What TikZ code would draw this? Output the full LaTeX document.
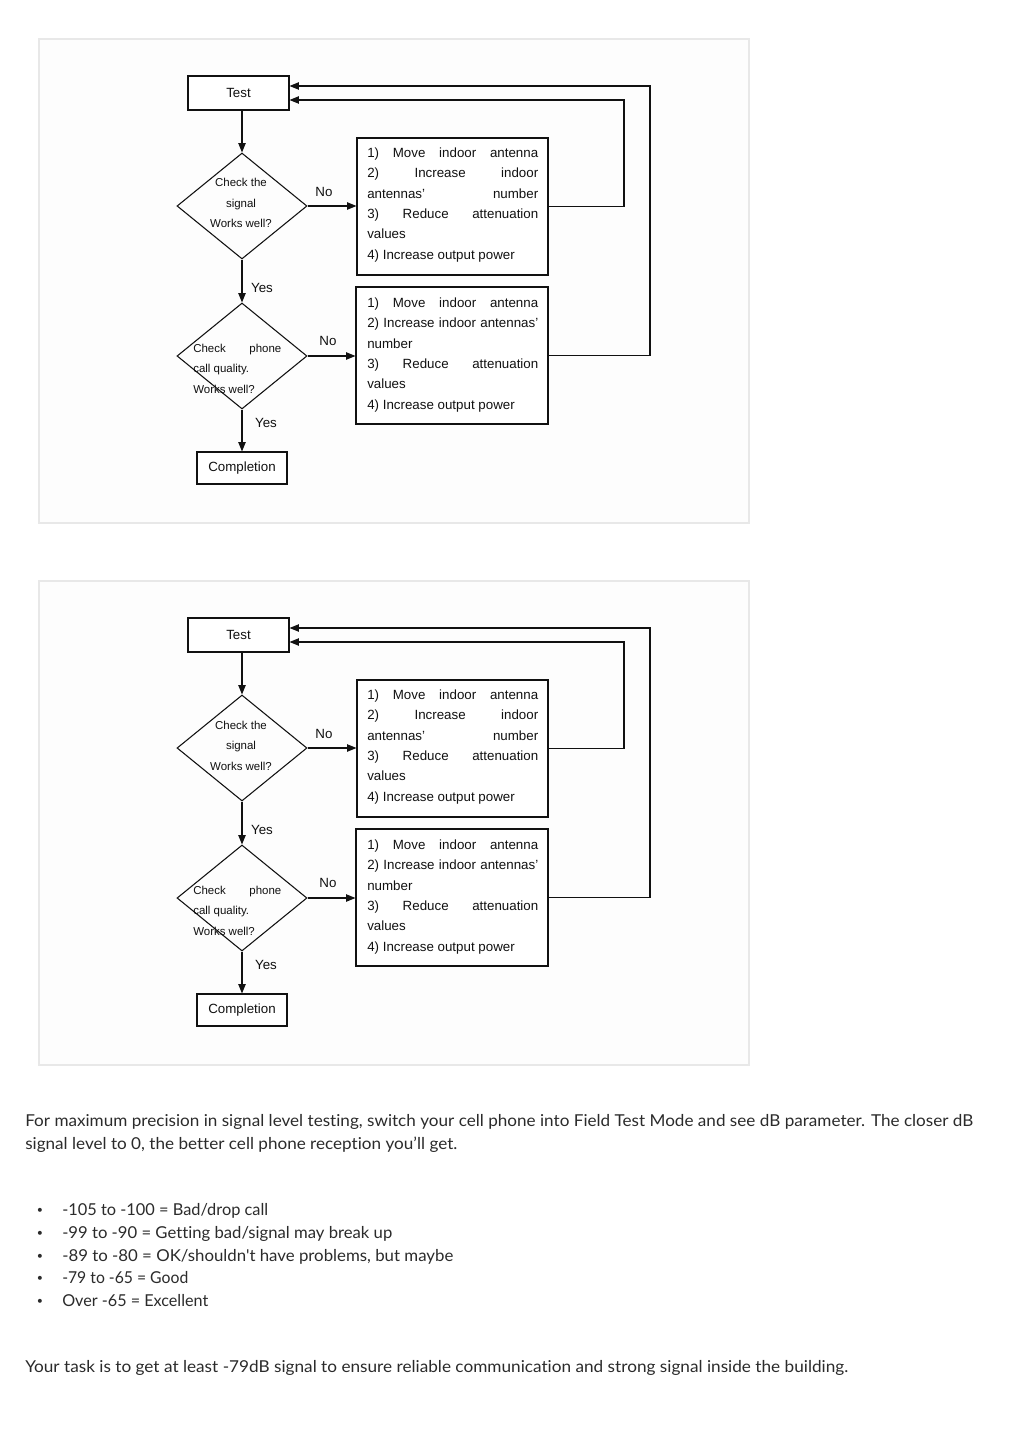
\documentclass[tikz,border=0pt]{standalone}
\usepackage{fontspec}
\usepackage{graphicx}
\setmainfont{Liberation Sans}
\newfontfamily\bodyfont[Ligatures={NoCommon,NoContextual}]{Lato}
\usetikzlibrary{arrows.meta,shapes.geometric}
\definecolor{panelfill}{HTML}{FDFDFD}
\definecolor{panelline}{HTML}{E8E8E8}
\definecolor{bodytext}{HTML}{2B2B2B}
\definecolor{flowline}{HTML}{111111}
\newcommand{\jline}[1]{\hbox to 128.25pt{#1}}
\newcommand{\flowpanel}[2]{%
\begin{scope}[shift={(0,#1)}]
\path[fill=panelfill, draw=panelline, line width=1.1pt] (39,39) rectangle (749,523);
% main nodes
\node[rbox, minimum width=75.75pt, minimum height=25.5pt] (#2test) at (238.5,93) {Test};
\node[dbox] (#2d1) at (242,206) {};
\node[rbox, minimum width=143.25pt, minimum height=102.75pt] (#2b1) at (452.5,206.5) {};
\node[dbox] (#2d2) at (242,356) {};
\node[rbox, minimum width=144pt, minimum height=102.75pt] (#2b2) at (452,355.5) {};
\node[rbox, minimum width=67.5pt, minimum height=24pt] (#2comp) at (242,468) {Completion};
% diamond texts
\node[dtext, anchor=base] (#2d1a) at (241,187) {Check the};
\node[dtext, anchor=base] (#2d1b) at (241,207.5) {signal};
\node[dtext, anchor=base] (#2d1c) at (241,228) {Works well?};
\node[dtext, anchor=base west] (#2d2a) at (193,352) {\hbox to 66pt{Check\hfill phone}};
\node[dtext, anchor=base west] (#2d2b) at (193,372.5) {call quality.};
\node[dtext, anchor=base west] (#2d2c) at (193,393) {Works well?};
% box 1 texts
\node[btext] (#2b1l1) at (367,157.3) {\jline{1)\hfill Move\hfill indoor\hfill antenna}};
\node[btext] (#2b1l2) at (367,177.7) {\jline{2)\hfill Increase\hfill indoor}};
\node[btext] (#2b1l3) at (367,198.1) {\jline{antennas'\hfill number}};
\node[btext] (#2b1l4) at (367,218.5) {\jline{3)\hfill Reduce\hfill attenuation}};
\node[btext] (#2b1l5) at (367,238.9) {values};
\node[btext] (#2b1l6) at (367,259.3) {4) Increase output power};
% box 2 texts
\node[btext] (#2b2l1) at (367,307.3) {\jline{1)\hfill Move\hfill indoor\hfill antenna}};
\node[btext] (#2b2l2) at (367,327.7) {\jline{2)\hfill Increase\hfill indoor\hfill antennas'}};
\node[btext] (#2b2l3) at (367,348.1) {number};
\node[btext] (#2b2l4) at (367,368.5) {\jline{3)\hfill Reduce\hfill attenuation}};
\node[btext] (#2b2l5) at (367,388.9) {values};
\node[btext] (#2b2l6) at (367,409.3) {4) Increase output power};
% labels
\node[lbl] (#2no1) at (324,192) {No};
\node[lbl] (#2yes1) at (262,288) {Yes};
\node[lbl] (#2no2) at (328,341) {No};
\node[lbl] (#2yes2) at (266,423) {Yes};
% connectors
\draw[arr] (#2test.south -| #2d1.north) -- (#2d1.north);
\draw[arr] (#2d1.east) -- (#2d1.east -| #2b1.west);
\draw[arr] (#2d1.south) -- (#2d2.north);
\draw[arr] (#2d2.east) -- (#2d2.east -| #2b2.west);
\draw[arr] (#2d2.south) -- (#2comp.north);
\coordinate (#2r1) at (624,100);
\coordinate (#2r2) at (650,86);
\draw[arr] (#2b1.east) -| (#2r1) -- (#2r1 -| #2test.east);
\draw[arr] (#2b2.east) -| (#2r2) -- (#2r2 -| #2test.east);
\end{scope}}
\begin{document}
\begin{tikzpicture}[x=0.75pt,y=-0.75pt,
  arr/.style={draw=flowline, line width=0.8pt, -{Triangle[length=7pt,width=5.5pt]}},
  rbox/.style={draw=flowline, line width=0.8pt, inner sep=0pt, fill=white, text=flowline, font=\fontsize{10}{12}\selectfont},
  dbox/.style={diamond, draw=flowline, line width=0.8pt, inner sep=0pt, minimum width=97.5pt, minimum height=79.5pt},
  dtext/.style={inner sep=0pt, text=flowline, font=\fontsize{8.6}{10}\selectfont},
  btext/.style={inner sep=0pt, anchor=base west, text=flowline, font=\fontsize{10}{12}\selectfont},
  lbl/.style={inner sep=0pt, text=flowline, font=\fontsize{10}{12}\selectfont},
  body/.style={inner sep=0pt, anchor=base west, text=bodytext, font=\bodyfont\fontsize{12.3}{15}\selectfont},
  bul/.style={inner sep=0pt, anchor=base, text=bodytext, font=\bodyfont\fontsize{8}{10}\selectfont},
]
\useasboundingbox[fill=white] (0,0) rectangle (1024,1448);
\flowpanel{0}{a}
\flowpanel{542}{b}
% body text
\node[body] (t1) at (25,1126) {\resizebox{711pt}{\height}{For maximum precision in signal level testing, switch your cell phone into Field Test Mode and see dB parameter. The closer dB}};
\node[body] (t2) at (25,1149) {\resizebox{324pt}{\height}{signal level to 0, the better cell phone reception you’ll get.}};
\node[bul] (u1) at (40,1213) {•};
\node[bul] (u2) at (40,1236) {•};
\node[bul] (u3) at (40,1259) {•};
\node[bul] (u4) at (40,1281) {•};
\node[bul] (u5) at (40,1304) {•};
\node[body] (l1) at (62,1215) {\resizebox{154.5pt}{\height}{-105 to -100 = Bad/drop call}};
\node[body] (l2) at (62,1238) {\resizebox{247.5pt}{\height}{-99 to -90 = Getting bad/signal may break up}};
\node[body] (l3) at (62,1261) {\resizebox{293.25pt}{\height}{-89 to -80 = OK/shouldn't have problems, but maybe}};
\node[body] (l4) at (62,1283) {\resizebox{94.5pt}{\height}{-79 to -65 = Good}};
\node[body] (l5) at (62,1306) {\resizebox{109.5pt}{\height}{Over -65 = Excellent}};
\node[body] (t3) at (25,1372) {\resizebox{617.25pt}{\height}{Your task is to get at least -79dB signal to ensure reliable communication and strong signal inside the building.}};
\end{tikzpicture}
\end{document}
